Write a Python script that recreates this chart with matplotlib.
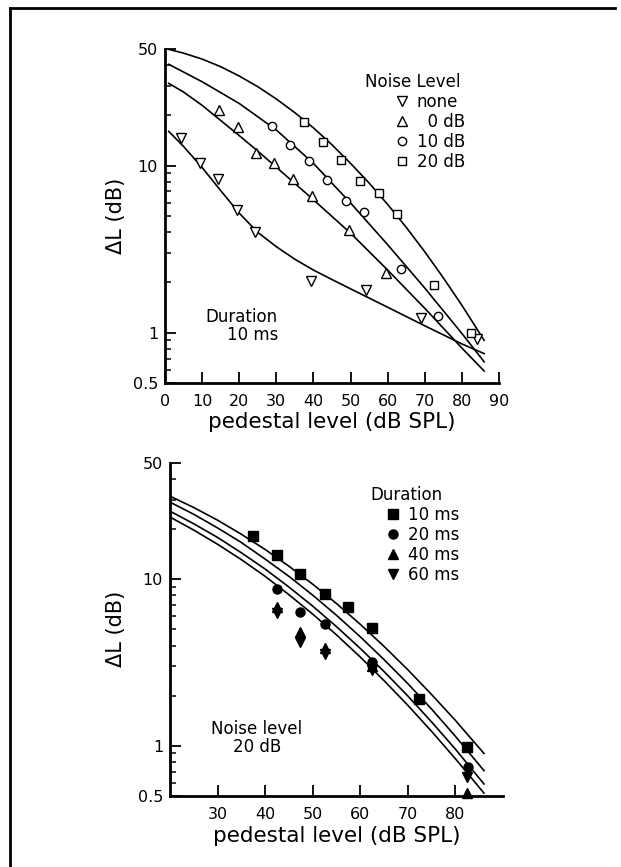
import matplotlib.pyplot as plt
from matplotlib.lines import Line2D
from matplotlib.ticker import FixedLocator, FixedFormatter, NullFormatter

plt.rcParams["font.family"] = "DejaVu Sans"

# ---- top panel: 10 ms tone, different noise levels ----
none_x = [4.3, 9.3, 14.4, 19.3, 24.3, 39.3, 54.3, 69.1, 84.2]
none_y = [14.6, 10.3, 8.3, 5.44, 4.02, 2.03, 1.81, 1.22, 0.92]
zero_x = [14.5, 19.6, 24.4, 29.5, 34.5, 39.5, 49.6, 59.5]
zero_y = [21.5, 17.1, 11.96, 10.3, 8.33, 6.59, 4.13, 2.28]
ten_x = [28.7, 33.8, 38.8, 43.7, 48.8, 53.7, 63.7, 73.6]
ten_y = [17.3, 13.3, 10.7, 8.14, 6.1, 5.24, 2.39, 1.26]
twenty_x = [37.5, 42.5, 47.5, 52.5, 57.6, 62.5, 72.5, 82.4]
twenty_y = [18.2, 13.9, 10.8, 8.1, 6.81, 5.13, 1.92, 0.99]

# fitted curves
fit_none_x = [1, 5, 10, 15, 20, 25, 30, 35, 40, 45, 50, 60, 70, 80, 86]
fit_none_y = [16.0, 13.0, 9.73, 7.08, 5.19, 3.98, 3.27, 2.75, 2.37, 2.08, 1.83,
              1.42, 1.10, 0.857, 0.75]
fit_zero_x = [1, 5, 10, 15, 20, 25, 30, 40, 50, 60, 70, 80, 86]
fit_zero_y = [31.0, 27.5, 22.9, 18.6, 15.1, 12.2, 9.77, 6.24, 3.94, 2.37, 1.40,
              0.81, 0.59]
fit_ten_x = [1, 10, 20, 30, 40, 50, 60, 70, 80, 86]
fit_ten_y = [40.3, 31.7, 23.5, 16.3, 10.3, 5.97, 3.36, 1.85, 0.99, 0.67]
fit_twenty_x = [1, 5, 10, 15, 20, 25, 30, 35, 40, 45, 50, 55, 60, 65, 70, 75, 80, 86]
fit_twenty_y = [49.5, 47.0, 43.3, 39.0, 34.3, 29.6, 25.0, 20.7, 16.8, 13.3, 10.3,
                7.86, 5.85, 4.27, 3.05, 2.13, 1.46, 0.90]

# ---- bottom panel: 20 dB noise, different durations ----
ms10_x = [37.4, 42.4, 47.4, 52.5, 57.4, 62.4, 72.4, 82.4]
ms10_y = [18.2, 13.9, 10.8, 8.1, 6.82, 5.1, 1.92, 0.98]
ms20_x = [42.4, 47.4, 52.5, 62.4, 82.6]
ms20_y = [8.71, 6.37, 5.35, 3.19, 0.75]
ms40_x = [42.4, 47.4, 52.5, 62.4, 82.4]
ms40_y = [6.82, 4.79, 3.86, 3.0, 0.52]
ms60_x = [42.4, 47.4, 52.5, 62.4, 82.4]
ms60_y = [6.28, 4.19, 3.56, 2.87, 0.65]

fit_dur_x = [20, 25, 30, 35, 40, 45, 50, 55, 60, 65, 70, 75, 80, 86]
fit_dur_y = [
    [31.5, 26.9, 22.6, 18.6, 15.07, 11.96, 9.33, 7.14, 5.36, 3.95, 2.86, 2.03, 1.42, 0.90],
    [29.0, 24.5, 20.3, 16.6, 13.2, 10.4, 8.02, 6.07, 4.51, 3.29, 2.36, 1.66, 1.14, 0.71],
    [25.6, 21.5, 17.8, 14.4, 11.5, 8.97, 6.89, 5.19, 3.84, 2.79, 1.99, 1.39, 0.955, 0.59],
    [23.6, 19.7, 16.2, 13.1, 10.4, 8.07, 6.17, 4.63, 3.41, 2.46, 1.75, 1.22, 0.836, 0.52],
]

ytick_major = [0.5, 1, 10, 50]
ytick_labels = ["0.5", "1", "10", "50"]
ytick_minor = [0.6, 0.7, 0.8, 0.9, 2, 3, 4, 5, 6, 7, 8, 9, 20, 30, 40]


def style_axis(ax, xlim, xticks):
    ax.set_yscale("log")
    ax.set_xlim(*xlim)
    ax.set_ylim(0.5, 50)
    for side in ("top", "right"):
        ax.spines[side].set_visible(False)
    for side in ("left", "bottom"):
        ax.spines[side].set_linewidth(2.0)
    ax.yaxis.set_major_locator(FixedLocator(ytick_major))
    ax.yaxis.set_major_formatter(FixedFormatter(ytick_labels))
    ax.yaxis.set_minor_locator(FixedLocator(ytick_minor))
    ax.yaxis.set_minor_formatter(NullFormatter())
    ax.set_xticks(xticks)
    ax.set_xticklabels([str(t) for t in xticks])
    ax.tick_params(axis="both", which="major", direction="in", length=8,
                   width=1.3, labelsize=11.5)
    ax.tick_params(axis="x", which="major", pad=8)
    ax.tick_params(axis="y", which="major", pad=5)
    ax.tick_params(axis="y", which="minor", direction="in", length=4.3, width=1.1)
    ax.set_xlabel("pedestal level (dB SPL)", fontsize=15.5)
    ax.set_ylabel("ΔL (dB)", fontsize=15)


fig = plt.figure(figsize=(6.21, 8.67), dpi=100)
ax1 = fig.add_axes([0.2657, 0.5582, 0.5378, 0.3857])
ax2 = fig.add_axes([0.2738, 0.0819, 0.5362, 0.3844])

# top panel
style_axis(ax1, (0, 90), list(range(0, 91, 10)))
for fx, fy in [(fit_none_x, fit_none_y), (fit_zero_x, fit_zero_y),
               (fit_ten_x, fit_ten_y), (fit_twenty_x, fit_twenty_y)]:
    ax1.plot(fx, fy, color="black", lw=1.2)

open_kw = dict(ls="none", mfc="white", mec="black", mew=1.0, clip_on=False)
h_none, = ax1.plot(none_x, none_y, marker="v", ms=7, **open_kw)
h_zero, = ax1.plot(zero_x, zero_y, marker="^", ms=7, **open_kw)
h_ten, = ax1.plot(ten_x, ten_y, marker="o", ms=6, **open_kw)
h_twenty, = ax1.plot(twenty_x, twenty_y, marker="s", ms=6, **open_kw)

ax1.text(0.599, 0.901, "Noise Level", transform=ax1.transAxes,
         ha="left", va="center", fontsize=12)
ax1.legend([h_none, h_zero, h_ten, h_twenty], ["none", "  0 dB", "10 dB", "20 dB"],
           loc="upper left", bbox_to_anchor=(0.6835, 0.868), frameon=False,
           fontsize=12, handlelength=1.0, handletextpad=0.4, labelspacing=0.12,
           borderpad=0, borderaxespad=0)
ax1.text(0.338, 0.172, "Duration\n10 ms", transform=ax1.transAxes,
         ha="right", va="center", multialignment="right", fontsize=12,
         linespacing=1.0)
ax1.xaxis.set_label_coords(0.5, -0.087)
ax1.yaxis.set_label_coords(-0.117, 0.5)

# bottom panel
style_axis(ax2, (20, 90), list(range(30, 81, 10)))
for fy in fit_dur_y:
    ax2.plot(fit_dur_x, fy, color="black", lw=1.2)

fill_kw = dict(ls="none", color="black", clip_on=False)
h10, = ax2.plot(ms10_x, ms10_y, marker="s", ms=6.5, **fill_kw)
h20, = ax2.plot(ms20_x, ms20_y, marker="o", ms=6.5, **fill_kw)
h40, = ax2.plot(ms40_x, ms40_y, marker="^", ms=7, **fill_kw)
h60, = ax2.plot(ms60_x, ms60_y, marker="v", ms=7, **fill_kw)

ax2.text(0.6006, 0.903, "Duration", transform=ax2.transAxes,
         ha="left", va="center", fontsize=12)
ax2.legend([h10, h20, h40, h60], ["10 ms", "20 ms", "40 ms", "60 ms"],
           loc="upper left", bbox_to_anchor=(0.6456, 0.870), frameon=False,
           fontsize=12, handlelength=1.0, handletextpad=0.4, labelspacing=0.12,
           borderpad=0, borderaxespad=0)
ax2.text(0.261, 0.174, "Noise level\n20 dB", transform=ax2.transAxes,
         ha="center", va="center", multialignment="center", fontsize=12,
         linespacing=1.0)
ax2.xaxis.set_label_coords(0.5, -0.09)
ax2.yaxis.set_label_coords(-0.132, 0.5)

# page frame (left and top edges)
fig.add_artist(Line2D([0.0153, 0.0153], [0.0, 0.9913], transform=fig.transFigure,
                      color="black", lw=2.0))
fig.add_artist(Line2D([0.0153, 0.99], [0.9913, 0.9913], transform=fig.transFigure,
                      color="black", lw=2.0))

fig.savefig("out.png", dpi=100)
